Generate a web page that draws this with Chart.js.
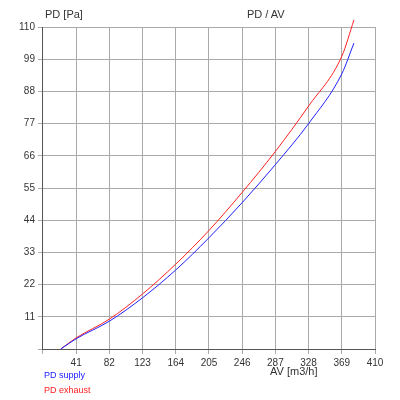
<!DOCTYPE html>
<html><head>
<script src="https://cdn.jsdelivr.net/npm/chart.js@4"></script>
<style>
body{margin:0;background:#fff;font-family:Arial,"Liberation Sans",sans-serif;}
#wrap{position:relative;width:400px;height:400px;}
.lbl{position:absolute;font-size:11px;color:#333;}
</style>
</head><body>
<div id="wrap">
<canvas id="c" width="400" height="400"></canvas>
<div class="lbl" style="left:45px;top:8px">PD [Pa]</div>
<div class="lbl" style="left:247px;top:8px">PD / AV</div>
<div class="lbl" style="left:270px;top:365px">AV [m3/h]</div>
<div class="lbl" style="left:44px;top:370px;color:#2020ff;font-size:9px">PD supply</div>
<div class="lbl" style="left:44px;top:385px;color:#ff2020;font-size:9px">PD exhaust</div>
</div>
<script>
// values
const av = [22, 41, 82, 123, 164, 205, 246, 287, 328, 369, 384];
const supply = [0, 3.5, 9.5, 17.5, 27, 38, 50, 63, 77, 94, 104.5];
const exhaust = [0, 3.8, 10.2, 18.8, 29, 40.5, 53.5, 67.5, 83, 100, 112.4];

const pts = (ys) => av.map((x, i) => ({ x: x, y: ys[i] }));

new Chart(document.getElementById('c'), {
  type: 'line',
  data: {
    datasets: [
      { label: 'PD supply', data: pts(supply), borderColor: '#2020ff', borderWidth: 1, pointRadius: 0, cubicInterpolationMode: 'monotone', clip: false },
      { label: 'PD exhaust', data: pts(exhaust), borderColor: '#ff2020', borderWidth: 1, pointRadius: 0, cubicInterpolationMode: 'monotone', clip: false }
    ]
  },
  options: {
    responsive: false,
    animation: false,
    layout: { padding: { left: 16, right: 25, top: 27, bottom: 28 } },
    plugins: { legend: { display: false }, tooltip: { enabled: false } },
    scales: {
      x: {
        type: 'linear', min: 0, max: 410,
        afterBuildTicks: (s) => { s.ticks = [0,41,82,123,164,205,246,287,328,369,410].map(v => ({ value: v })); },
        ticks: { callback: v => v === 0 ? '' : v, font: { size: 10 }, color: '#333', maxRotation: 0 },
        grid: { color: '#aaa', tickLength: 5 },
        border: { color: '#555' }
      },
      y: {
        min: 0, max: 110,
        ticks: { stepSize: 11, callback: v => v === 0 ? '' : v, font: { size: 10 }, color: '#333' },
        grid: { color: '#aaa', tickLength: 5 },
        border: { color: '#555' }
      }
    }
  }
});
</script>
</body></html>
